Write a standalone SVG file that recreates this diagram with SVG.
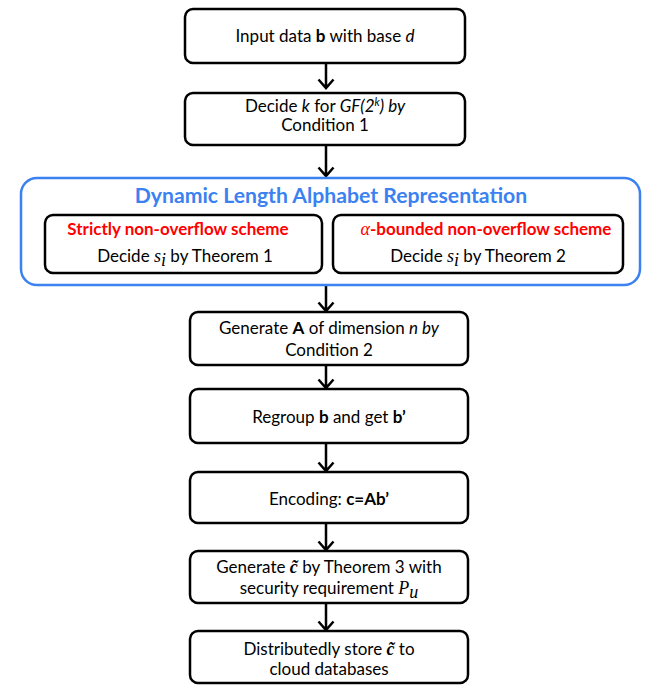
<svg xmlns="http://www.w3.org/2000/svg" width="664" height="696" viewBox="0 0 664 696">
<style>
.box{fill:#fff;stroke:#000;stroke-width:2.5}
.t{font-family:Lato,"Open Sans","Liberation Sans",sans-serif;font-size:17px;fill:#000;text-anchor:middle}
.b{font-weight:bold}
.i{font-style:italic}
.m{font-family:"Liberation Serif","DejaVu Serif",serif;font-style:italic;font-size:18px}
.red{fill:#ff0000;font-weight:bold}
.title{font-family:Lato,"Open Sans","Liberation Sans",sans-serif;font-size:21.2px;font-weight:bold;fill:#3b82f0;text-anchor:middle}
.conn{stroke:#000;stroke-width:2.5;fill:none}
</style>
<rect width="664" height="696" fill="#fff"/>
<g id="connectors">
<path class="conn" d="M326 63V88M318.500 79.500L326 88L333.500 79.500"/>
<path class="conn" d="M326 145V176M318.500 167.500L326 176L333.500 167.500"/>
<path class="conn" d="M326 286V311M318.500 302.500L326 311L333.500 302.500"/>
<path class="conn" d="M326 365V388M318.500 379.500L326 388L333.500 379.500"/>
<path class="conn" d="M326 443V471M318.500 462.500L326 471L333.500 462.500"/>
<path class="conn" d="M326 523V550M318.500 541.500L326 550L333.500 541.500"/>
<path class="conn" d="M326 603V630M318.500 621.500L326 630L333.500 621.500"/>
</g>
<g id="n1">
<rect class="box" x="185" y="9" width="280" height="54" rx="8"/>
<text class="t" x="325" y="42">Input data <tspan class="b">b</tspan> with base <tspan class="i">d</tspan></text>
</g>
<g id="n2">
<rect class="box" x="185" y="93" width="280" height="52" rx="8"/>
<text class="t" x="325" y="112">Decide <tspan class="i">k</tspan> for <tspan class="i">GF(2</tspan><tspan class="i" font-size="11" dy="-6">k</tspan><tspan class="i" dy="6">) by</tspan></text>
<text class="t" x="325" y="131">Condition 1</text>
</g>
<g id="dlar">
<rect x="21" y="178" width="619" height="107" rx="16" fill="#fff" stroke="#3b82f0" stroke-width="2.5"/>
<text class="title" x="331" y="203">Dynamic Length Alphabet Representation</text>
</g>
<g id="strict">
<rect class="box" x="45" y="215" width="277" height="58" rx="8"/>
<text class="t red" x="178" y="235">Strictly non-overflow scheme</text>
<text class="t" x="185" y="262">Decide <tspan class="m">s</tspan><tspan class="m" font-size="12" dy="4">i</tspan><tspan dy="-4"> by Theorem 1</tspan></text>
</g>
<g id="alpha">
<rect class="box" x="333" y="215" width="290" height="58" rx="8"/>
<text class="t red" x="486" y="235"><tspan class="m" font-weight="normal">α</tspan>-bounded non-overflow scheme</text>
<text class="t" x="478" y="262">Decide <tspan class="m">s</tspan><tspan class="m" font-size="12" dy="4">i</tspan><tspan dy="-4"> by Theorem 2</tspan></text>
</g>
<g id="n3">
<rect class="box" x="190" y="312" width="278" height="53" rx="8"/>
<text class="t" x="329" y="334">Generate <tspan class="b">A</tspan> of dimension <tspan class="i">n by</tspan></text>
<text class="t" x="329" y="356">Condition 2</text>
</g>
<g id="n4">
<rect class="box" x="190" y="389" width="278" height="54" rx="8"/>
<text class="t" x="329" y="423">Regroup <tspan class="b">b</tspan> and get <tspan class="b">b’</tspan></text>
</g>
<g id="n5">
<rect class="box" x="190" y="472" width="278" height="51" rx="8"/>
<text class="t" x="329" y="505">Encoding: <tspan class="b">c=Ab’</tspan></text>
</g>
<g id="n6">
<rect class="box" x="190" y="551" width="278" height="52" rx="8"/>
<text class="t" x="329" y="573">Generate <tspan class="m" font-weight="bold">c̃</tspan> by Theorem 3 with</text>
<text class="t" x="329" y="594">security requirement <tspan class="m">P</tspan><tspan class="m" font-size="12" dy="4">u</tspan></text>
</g>
<g id="n7">
<rect class="box" x="190" y="631" width="278" height="52" rx="8"/>
<text class="t" x="329" y="655">Distributedly store <tspan class="m" font-weight="bold">c̃</tspan> to</text>
<text class="t" x="329" y="675">cloud databases</text>
</g>
</svg>
